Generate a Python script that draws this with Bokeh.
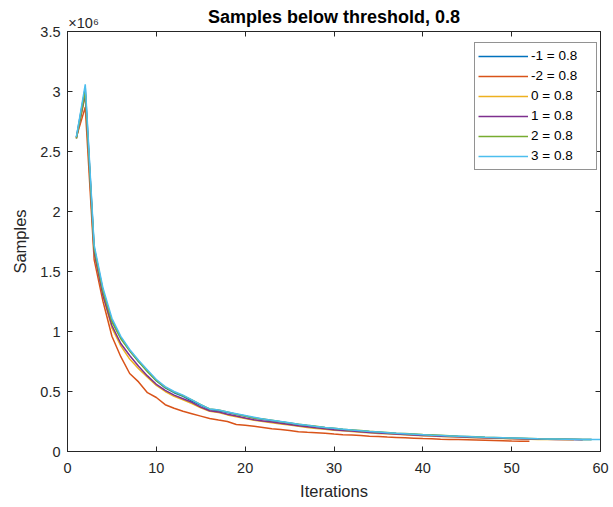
from bokeh.plotting import figure
from bokeh.models import LinearAxis, Range1d, Legend, LegendItem, FixedTicker
from bokeh.embed import file_html
from bokeh.resources import INLINE

# Data (samples in units of 1e6)
title_text = "Samples below threshold, 0.8"
labels = ["-1 = 0.8", "-2 = 0.8", "0 = 0.8", "1 = 0.8", "2 = 0.8", "3 = 0.8"]
colors = ["#0072BD", "#D95319", "#EDB120", "#7E2F8E", "#77AC30", "#4DBEEE"]

s_m1 = [2.62, 3.03, 1.70, 1.34, 1.09, 0.95, 0.84, 0.75, 0.67, 0.59,
        0.53, 0.49, 0.46, 0.42, 0.385, 0.35, 0.34, 0.325, 0.31, 0.295,
        0.28, 0.268, 0.257, 0.247, 0.236, 0.225, 0.215, 0.206, 0.198, 0.19,
        0.183, 0.177, 0.171, 0.165, 0.16, 0.155, 0.15, 0.146, 0.142, 0.138,
        0.135, 0.132, 0.129, 0.126, 0.123, 0.12, 0.117, 0.115, 0.113, 0.111,
        0.109, 0.107, 0.105, 0.104, 0.103, 0.102, 0.101, 0.10, 0.099]
s_m2 = [2.62, 2.87, 1.60, 1.25, 0.96, 0.79, 0.65, 0.58, 0.49, 0.45,
        0.39, 0.36, 0.335, 0.315, 0.295, 0.275, 0.262, 0.25, 0.225, 0.218,
        0.21, 0.2, 0.19, 0.183, 0.175, 0.165, 0.16, 0.157, 0.153, 0.145,
        0.14, 0.137, 0.133, 0.128, 0.124, 0.12, 0.117, 0.114, 0.111, 0.108,
        0.106, 0.103, 0.101, 0.099, 0.097, 0.095, 0.093, 0.091, 0.089, 0.087,
        0.086, 0.085]
s_0 = [2.61, 2.97, 1.65, 1.30, 1.03, 0.88, 0.77, 0.69, 0.62, 0.55,
       0.50, 0.46, 0.43, 0.40, 0.365, 0.335, 0.325, 0.305, 0.29, 0.275,
       0.26, 0.25, 0.24, 0.23, 0.22, 0.21, 0.20, 0.192, 0.185, 0.178,
       0.172, 0.166, 0.161, 0.156, 0.151, 0.147, 0.143, 0.139, 0.135, 0.132,
       0.129, 0.126, 0.123, 0.12, 0.117, 0.114, 0.112, 0.11, 0.108, 0.106,
       0.104, 0.102, 0.101, 0.10, 0.099, 0.098, 0.097]
s_1 = [2.61, 2.98, 1.66, 1.30, 1.05, 0.90, 0.80, 0.71, 0.63, 0.56,
       0.51, 0.47, 0.44, 0.41, 0.37, 0.34, 0.33, 0.31, 0.295, 0.28,
       0.265, 0.255, 0.245, 0.235, 0.225, 0.215, 0.206, 0.197, 0.19, 0.182,
       0.176, 0.17, 0.164, 0.159, 0.154, 0.149, 0.145, 0.141, 0.137, 0.134,
       0.131, 0.128, 0.125, 0.122, 0.119, 0.116, 0.114, 0.112, 0.11, 0.108,
       0.106, 0.104, 0.103, 0.102, 0.101, 0.10, 0.099, 0.098]
s_2 = [2.61, 3.0, 1.69, 1.33, 1.08, 0.94, 0.84, 0.75, 0.665, 0.59,
       0.535, 0.495, 0.465, 0.43, 0.39, 0.355, 0.345, 0.33, 0.31, 0.295,
       0.28, 0.27, 0.26, 0.248, 0.238, 0.228, 0.218, 0.21, 0.20, 0.193,
       0.186, 0.18, 0.174, 0.168, 0.163, 0.158, 0.153, 0.149, 0.145, 0.141,
       0.138, 0.135, 0.132, 0.128, 0.125, 0.122, 0.119, 0.117, 0.115, 0.112,
       0.11, 0.108, 0.106, 0.105, 0.104, 0.103, 0.102, 0.101, 0.10]
s_3 = [2.62, 3.06, 1.72, 1.36, 1.11, 0.96, 0.85, 0.76, 0.68, 0.60,
       0.54, 0.50, 0.47, 0.43, 0.39, 0.355, 0.345, 0.33, 0.315, 0.30,
       0.285, 0.27, 0.26, 0.25, 0.24, 0.228, 0.218, 0.208, 0.20, 0.193,
       0.186, 0.179, 0.173, 0.167, 0.162, 0.157, 0.152, 0.148, 0.144, 0.140,
       0.136, 0.133, 0.130, 0.127, 0.124, 0.121, 0.118, 0.116, 0.114, 0.112,
       0.110, 0.108, 0.106, 0.105, 0.104, 0.103, 0.102, 0.101, 0.100, 0.099]
series = [s_m1, s_m2, s_0, s_1, s_2, s_3]

x_ticks = [0, 10, 20, 30, 40, 50, 60]
y_ticks = [0, 0.5, 1, 1.5, 2, 2.5, 3, 3.5]
y_tick_labels = {0: "0", 0.5: "0.5", 1: "1", 1.5: "1.5", 2: "2", 2.5: "2.5", 3: "3", 3.5: "3.5"}
exponent_label = "\u00d710\u2076"

FONT = "Liberation Sans"
AX = "#262626"
TICK_FS = "14.5px"

p = figure(width=613, height=507, output_backend="svg", toolbar_location=None,
           x_range=Range1d(0, 60), y_range=Range1d(0, 3.5),
           min_border_left=67, min_border_right=13, min_border_top=31, min_border_bottom=56)
p.frame_width = 533
p.frame_height = 420
p.grid.visible = False
p.outline_line_color = AX
p.outline_line_width = 1
p.background_fill_color = "white"
p.title.visible = False

def style_axis(ax):
    ax.axis_line_color = AX
    ax.axis_line_width = 1
    ax.major_tick_line_color = AX
    ax.major_tick_in = 5
    ax.major_tick_out = 0
    ax.minor_tick_line_color = None
    ax.major_label_text_font = FONT
    ax.major_label_text_font_size = TICK_FS
    ax.major_label_text_color = AX
    ax.axis_label_text_font = FONT
    ax.axis_label_text_font_size = "16.5px"
    ax.axis_label_text_font_style = "normal"
    ax.axis_label_text_color = AX

xa = p.xaxis[0]
xa.ticker = FixedTicker(ticks=x_ticks)
xa.axis_label = "Iterations"
style_axis(xa)
xa.major_label_standoff = 11
xa.axis_label_standoff = 6

ya = p.yaxis[0]
ya.ticker = FixedTicker(ticks=y_ticks)
ya.major_label_overrides = y_tick_labels
ya.axis_label = "Samples"
style_axis(ya)
ya.major_label_standoff = 7
ya.axis_label_standoff = 8

# top box axis: carries the x10^6 exponent (label at x=0, pushed right) and the title
top_over = {t: "" for t in x_ticks}
top_over[0] = "\u00a0" * 8 + exponent_label
top = LinearAxis(ticker=FixedTicker(ticks=x_ticks), major_label_overrides=top_over)
style_axis(top)
top.major_label_standoff = 1
top.axis_label = title_text
top.axis_label_text_font_size = "18px"
top.axis_label_text_font_style = "bold"
top.axis_label_text_color = "black"
top.axis_label_standoff = -15
p.add_layout(top, "above")

right = LinearAxis(ticker=FixedTicker(ticks=y_ticks),
                   major_label_overrides={t: "" for t in y_ticks})
style_axis(right)
right.major_label_standoff = 0
p.add_layout(right, "right")

items = []
for lab, col, ys in zip(labels, colors, series):
    xs = list(range(1, len(ys) + 1))
    r = p.line(xs, ys, line_color=col, line_width=1.5)
    items.append(LegendItem(label=lab, renderers=[r]))

legend = Legend(items=items, location=(407, 281.5), border_line_color=AX,
                border_line_width=1, label_text_font=FONT, label_text_font_size="13.5px",
                label_text_color="black", glyph_width=50, glyph_height=20,
                label_height=20, label_width=62, spacing=0, padding=3,
                label_standoff=3, background_fill_alpha=1.0, margin=0)
p.add_layout(legend, "center")

open("out.html", "w").write(file_html(p, INLINE))
